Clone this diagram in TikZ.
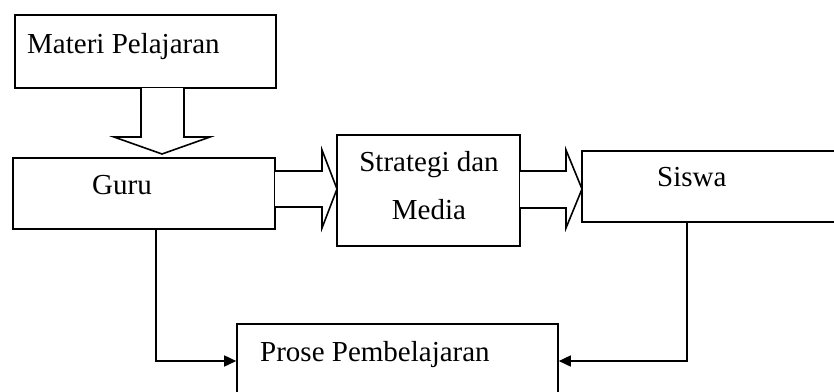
\documentclass[tikz,border=0pt]{standalone}
\usepackage{fontspec}
\setmainfont{Liberation Serif}
\usetikzlibrary{positioning}
\usetikzlibrary{arrows.meta}

\tikzset{
	box/.style={draw, line width=1.6pt, inner sep=0pt},
	lbl/.style={inner sep=0pt, anchor=base west, font=\fontsize{29}{48}\selectfont},
	fat/.style={draw, line width=1.6pt, fill=white, line join=miter},
	link/.style={line width=1.6pt, -{Triangle[length=12pt,width=11pt]}}
}

\begin{document}
\begin{tikzpicture}[x=1pt, y=-1pt]
	\useasboundingbox (0,0) rectangle (834,391);
	\clip (0,0) rectangle (834,391);
	% boxes
	\node [box, minimum width=261pt, minimum height=73pt] (materi) at (145.5,51.5) {};
	\node [box, minimum width=262pt, minimum height=71pt] (guru) at (144,193.5) {};
	\node [box, minimum width=183pt, minimum height=111pt] (strategi) at (428.5,190.5) {};
	\node [box, minimum width=258pt, minimum height=71pt] (siswa) at (711,186.5) {};
	\node [box, minimum width=321pt, minimum height=74pt] (proses) at (397.5,361) {};

	% texts
	\node [lbl] (tmateri) at (27,53) {Materi Pelajaran};
	\node [lbl] (tguru) at (92,194) {Guru};
	\node [lbl, anchor=center, align=center] (tstrategi) at (429,186) {Strategi dan\\Media};
	\node [lbl] (tsiswa) at (657,186) {Siswa};
	\node [lbl] (tproses) at (260,361) {Prose Pembelajaran};

	% block arrows
	\draw [fat] (141,88) -- (141,137) -- (114,137) -- (162,154) -- (210,137) -- (184,137) -- (184,88);
	\draw [fat] (275,171) -- (322,171) -- (322,150) -- (337,189) -- (322,228) -- (322,207) -- (275,207);
	\draw [fat] (520,171) -- (566,171) -- (566,150) -- (582,189) -- (566,228) -- (566,208) -- (520,208);

	% feedback lines
	\draw [link] ([xshift=12pt]guru.south) |- (proses.west);
	\draw [link] ([xshift=-24pt]siswa.south) |- (proses.east);
\end{tikzpicture}
\end{document}
